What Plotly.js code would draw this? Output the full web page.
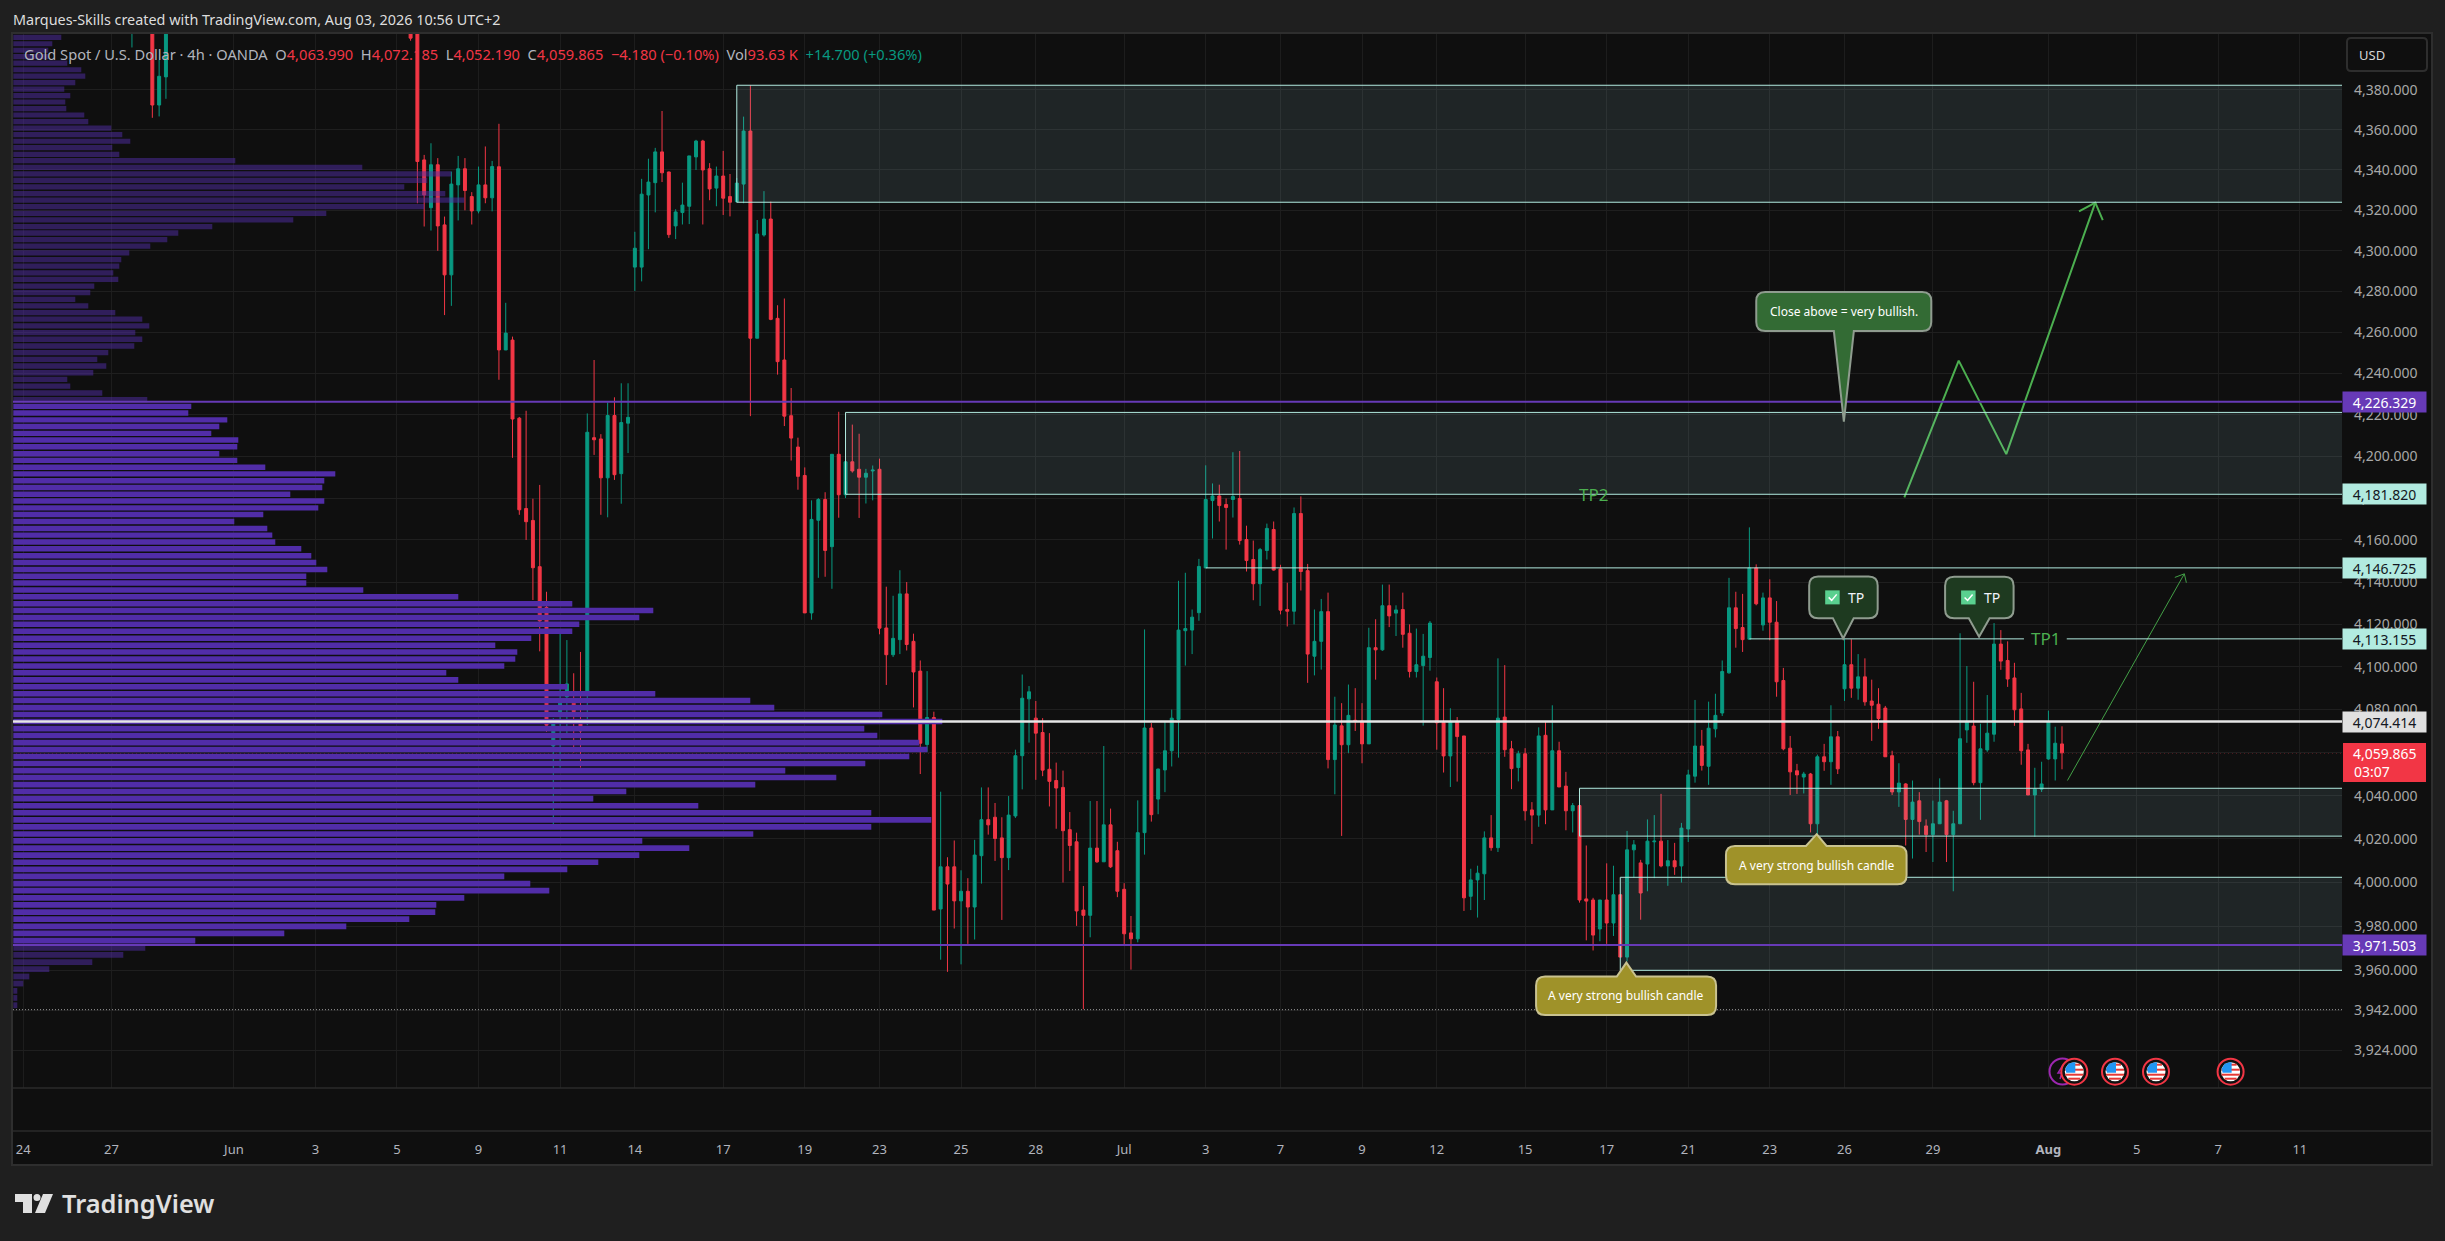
<!DOCTYPE html>
<html><head><meta charset="utf-8">
<script src="https://cdn.plot.ly/plotly-3.0.1.min.js"></script>
<style>html,body{margin:0;padding:0;background:#1f1f1f;overflow:hidden}#c{width:2445px;height:1241px}</style>
</head><body><div id="c"></div>
<script>
// candle position (bar count) — the first four sit before a stretch that lies above the visible range
const earlyIndex=[-96,-93,-92,-91];
const opens=[4415,4420,4372.4,4386.5,
4410,4412,4345,4321.3,4342.6,4312.8,4288.2,4332.6,4340.6,4326.8,
4319.7,4332.6,4326.2,4341.6,4251.5,4256.3,4218.4,4175,4169.3,4147.3,
4128,4063,4079,4086,4083,4075,4088,4209,4208.4,4189.7,
4219.7,4191.7,4216,4292,4292,4327.6,4333.7,4349,4339,4312.3,
4318.9,4322,4346.5,4354.4,4340.6,4331,4337,4326.8,4324.3,4333,
4359.4,4257.2,4307.8,4315.7,4266.9,4246.6,4219.6,4204.5,4190.8,4125.4,
4169.4,4179.3,4156.8,4201,4181.6,4197.4,4193.8,4190,4193,4193.8,
4118.3,4105.7,4112.8,4134.4,4112,4098,4063.7,4076.3,3987.9,4007.2,
4007.2,3991.6,3996,3988.8,4012.3,4028.9,4030,4020.5,4011.4,4030.6,
4058.5,4085,4076,4069.3,4052.2,4047,4043.8,4024.3,4018.7,3987.4,
3985,4015.8,4009.5,4026.5,4014.6,3996.9,3977,3974.3,4022.9,4071.4,
4038.4,4051.9,4060.8,4075.4,4117,4117.3,4125.5,4146.7,4178.8,4181,
4176.9,4179.3,4179.8,4160.2,4150.7,4139.2,4155,4165,4146.2,4127,
4126.2,4172.6,4145.4,4105,4112,4126,4056.7,4072.4,4063.6,4075,
4074.6,4064,4109,4108,4128.8,4125.3,4127,4115.8,4097.8,4100.6,
4104.4,4093,4074,4058.4,4074.4,4067.7,3993.7,4001.2,4004,4020.5,
4016,4076.5,4061.7,4053,4059.4,4033.4,4031,4068,4033.4,4060.8,
4044.4,4033,4035.4,3992.5,3992,3978.8,3992,3981.5,3994.4,3966,
4015,4009,4008.5,4018.7,4019,4007.6,4010,4007.6,4024.6,4049,
4063,4053.6,4071,4078.4,4097.2,4127.8,4118.5,4113,4146.7,4119.7,
4132.5,4121,4093.6,4062,4051.5,4048.6,4050,4027,4058,4055.7,
4067.3,4089.7,4101,4090,4095.3,4084,4082.5,4080.7,4058.5,4041.7,
4045.4,4029,4037.6,4026,4022,4027,4037.6,4022,4027,4070.5,
4072.3,4046,4061.2,4068.5,4110.7,4103,4094.8,4080.3,4061.2,4040.3,
4043,4057,4057,4063.99];
const highs=[4425,4425,4395,4425,
4415,4415,4347.5,4353.3,4345.9,4316.9,4339.2,4347,4345.9,4329,
4341.7,4351.7,4344.5,4363,4274.5,4258,4219,4222,4179.7,4186.3,
4135.4,4076,4115.7,4112.6,4097,4107,4220.7,4246.6,4210.7,4226,
4228.5,4235.3,4235.3,4309.4,4335.6,4345.6,4351,4369.4,4339.2,4320.5,
4333.7,4347,4355,4355,4343.4,4341.7,4349.5,4338,4336,4366.6,
4382.3,4315.2,4329.5,4324.3,4273.3,4276.6,4233,4209,4194.7,4178.9,
4180,4182.8,4201,4221.5,4207.5,4215.3,4210.9,4194,4195.6,4198.9,
4137.8,4133.5,4145.6,4140,4115.6,4103,4098,4079,4041.8,4011.6,
4019.3,4005.6,4002,4019.6,4043.8,4043.8,4036.6,4030,4039.8,4061.3,
4096.4,4091,4084,4076,4069,4055.3,4051.6,4032.4,4022.9,3998.4,
4037.5,4037.5,4063,4034,4018.7,3999.7,3984.7,4037.8,4117.6,4073.7,
4052.5,4074.3,4080,4140.6,4144.4,4127,4151,4195.7,4187,4186.4,
4179.8,4202,4202.6,4166.8,4159.7,4156.2,4167.8,4168.8,4148.2,4139.7,
4175.5,4180.8,4148.6,4127,4132,4135,4086,4083,4091.7,4090,
4083,4118.4,4122.4,4138.8,4138.8,4129,4135,4120,4118,4115.5,
4121.6,4095,4090,4080.6,4076.5,4067.7,4006.3,4007.7,4023.5,4031,
4104,4100.8,4065.4,4060.8,4062,4037,4071.7,4074.4,4082,4065,
4051,4036.6,4035.4,4017,3993,3992,4008.8,4007.7,3994.4,4023.7,
4019.5,4010.4,4029,4031,4040.8,4019.5,4018.2,4027.4,4052,4084.5,
4070.5,4083.7,4087.4,4103,4142,4135.4,4134.4,4166,4148.4,4135,
4141.3,4131,4099.5,4067.7,4054.7,4051,4050.5,4059,4064,4082,
4070,4113,4113,4106,4104,4094,4090,4081.7,4060.8,4055,
4045.8,4047,4041.6,4029,4037.7,4048,4038,4033,4115.8,4100.4,
4093,4073.4,4086.8,4120.6,4117.3,4112,4101.9,4087.8,4064,4052.9,
4055.7,4079.5,4072,4072.185];
const lows=[4401.3,4366,4366.7,4375.5,
4404.7,4323.5,4312,4310,4300,4268.5,4273,4315,4320,4313,
4318.5,4323.5,4319.5,4237,4251.4,4199.3,4172,4160,4131.5,4107.3,
4069.6,4026.5,4053,4069,4060,4053,4072.7,4200.7,4172,4170.8,
4188.7,4177.3,4201.6,4280.3,4285,4300.8,4319,4334,4306.4,4305.8,
4313,4313.2,4340,4313,4325,4322,4317.7,4317,4323.8,4323.5,
4219.4,4257.2,4307,4266,4239.5,4214.6,4198,4184,4125.4,4122.2,
4142,4142.5,4136.8,4170.6,4180,4192.2,4170.5,4177.4,4178.9,4115.3,
4091.5,4104.6,4106,4107.7,4081,4050,4060.3,3987.4,3964.8,3959.3,
3979,3962.7,3972,3974,3999.5,4022,4009.9,3982.9,4005.7,4029.7,
4042.9,4064.6,4047.3,4049,4035,4024.7,4000,4005.3,3980.2,3942.4,
3975,4009,4009.5,4006.7,3993.3,3971,3960.3,3972.7,4012.8,4028,
4031.4,4041.6,4053.5,4057.6,4100.6,4106,4121.7,4146.7,4160.7,4168.8,
4155.4,4170.7,4157.8,4145,4131.4,4128.7,4150.7,4145.4,4124.7,4119,
4120,4136,4092.5,4096,4098.7,4052.6,4040.6,4021.4,4059.8,4070,
4055,4064,4094,4107.5,4118.7,4114.5,4109,4095,4095,4072.5,
4098.2,4061.3,4050.7,4044,4046.5,3987,3987.4,3984,3992,4014.6,
4014,4058,4043,4046.6,4028.5,4017.7,4025.6,4026.8,4033.4,4044,
4024,4023,3990.8,3973.6,3969,3973.2,3972,3975.6,3966,3964,
4002.3,3983,3996,4002,4007,3998.5,4003.5,4000,4018.6,4046,
4051.6,4045,4067,4077,4096.8,4109,4107,4113,4129,4117,
4112.5,4086,4061,4040.3,4040.8,4041,4023,4022,4051.5,4045,
4050,4084,4085.5,4084.6,4081.8,4065.4,4071,4058,4040.3,4034.8,
4017,4011,4022,4014,4009.4,4027,4009.4,3996,4027,4064.5,
4044.8,4028.8,4060.3,4065,4098.6,4090.6,4072.4,4054.3,4040.3,4021,
4041.7,4056.6,4047,4052.19];
const closes=[4420,4372.4,4386.8,4420,
4406,4344.2,4327.6,4342.6,4312.3,4288.2,4333,4340.6,4329.8,4319.7,
4332.6,4326.2,4341.7,4251.5,4259.7,4218,4174.4,4168.7,4146.8,4121.6,
4072.7,4074,4083,4092,4079,4070,4211.6,4208,4189.7,4219.7,
4191.2,4216.3,4218.8,4301.3,4328,4334,4349,4338.6,4308,4319.2,
4322.6,4347,4354.4,4340,4330.6,4337,4326,4324,4333.5,4359.4,
4257.2,4308.3,4315.7,4266.4,4245.8,4219.4,4208.8,4190.4,4125.4,4169.8,
4179.3,4155,4201,4181.6,4197.4,4193,4190,4191.9,4193.4,4118.2,
4105.7,4113.4,4134.4,4110.5,4097.6,4064.3,4076.3,3987.4,4007.2,3999.3,
3991.6,3996,3988.8,4012.6,4028.9,4026.5,4020.2,4011.4,4031,4058.5,
4085.3,4088.3,4069,4051.8,4046.6,4043.5,4023.8,4017,3987,3985,
4015.8,4009.5,4026.5,4007.2,3996,3976.6,3974.3,4022.9,4071.4,4031.2,
4052.3,4060.8,4076,4117.3,4118,4123.4,4147.4,4179.3,4181,4176.4,
4175.5,4180.8,4159.7,4150.2,4139.2,4155.4,4165.5,4145.7,4126.7,4126.2,
4172.6,4145,4106,4112,4126,4056.7,4072.8,4063.6,4077.3,4074.5,
4064,4109,4108,4128.8,4124,4126.8,4115.3,4097.8,4101,4105,
4120.6,4073.8,4058.4,4074.4,4067.4,3993,4001.2,4004.3,4020.5,4016,
4076,4061.3,4052.5,4059.4,4033,4031,4067.7,4033.4,4060.8,4044,
4033,4035.4,3992,3991.5,3976,3992,3981.5,3994.4,3966,4015,
4017.3,3995.2,4019,4019,4007.6,4010,4007.2,4025,4049.6,4063,
4054,4071.3,4077.3,4097.8,4127.8,4118,4112.8,4146.7,4129.7,4132.5,
4121,4093,4061.7,4051,4049.6,4050,4027,4058,4055.7,4067.3,
4052.4,4101,4090,4095.3,4083.6,4082,4075.8,4058,4041.7,4045.8,
4029,4037,4028,4022,4027,4037,4022,4027,4066.4,4074.3,
4046,4061.7,4069,4110.7,4102.7,4094.3,4079.9,4060.8,4040.3,4043,
4045.4,4074.4,4064.3,4059.865];

// volume profile rows, bottom to top
const profilePrice=[3944.2,3947.5,3950.7,3954.0,3957.2,3960.5,3963.7,3967.0,3970.2,3973.5,
3976.8,3980.0,3983.3,3986.5,3989.8,3993.0,3996.3,3999.5,4002.8,4006.0,
4009.3,4012.6,4015.8,4019.1,4022.3,4025.6,4028.8,4032.1,4035.3,4038.6,
4041.9,4045.1,4048.4,4051.6,4054.9,4058.1,4061.4,4064.6,4067.9,4071.1,
4074.4,4077.7,4080.9,4084.2,4087.4,4090.7,4093.9,4097.2,4100.4,4103.7,
4107.0,4110.2,4113.5,4116.7,4120.0,4123.2,4126.5,4129.7,4133.0,4136.2,
4139.5,4142.8,4146.0,4149.3,4152.5,4155.8,4159.0,4162.3,4165.5,4168.8,
4172.1,4175.3,4178.6,4181.8,4185.1,4188.3,4191.6,4194.8,4198.1,4201.3,
4204.6,4207.9,4211.1,4214.4,4217.6,4220.9,4224.1,4227.4,4230.6,4233.9,
4237.2,4240.4,4243.7,4246.9,4250.2,4253.4,4256.7,4259.9,4263.2,4266.5,
4269.7,4273.0,4276.2,4279.5,4282.7,4286.0,4289.2,4292.5,4295.7,4299.0,
4302.3,4305.5,4308.8,4312.0,4315.3,4318.5,4321.8,4325.0,4328.3,4331.6,
4334.8,4338.1,4341.3,4344.6,4347.8,4351.1,4354.3,4357.6,4360.8,4364.1,
4367.4,4370.6,4373.9,4377.1,4380.4,4383.6,4386.9,4390.1,4393.4,4396.7,
4399.9,4403.2,4406.4];
const profileVolume=[4,4,4,10,16,36,79,110,132,182,
271,333,396,422,423,451,536,517,491,554,
585,626,676,629,740,858,918,858,685,580,
613,742,823,772,852,896,914,906,864,851,
929,869,761,737,642,554,445,433,491,502,
504,482,518,559,566,626,640,559,445,350,
293,293,314,303,298,288,262,259,254,221,
250,305,311,277,309,311,322,252,224,206,
224,225,198,206,214,175,178,
134,89,57,54,80,93,84,95,121,129,
122,136,129,102,75,62,77,81,105,100,
106,108,116,137,154,165,199,280,313,411,
451,432,391,414,438,349,222,106,99,117,
109,98,75,71,53,52,57,51,62,72,
68,54,35,35,39,48];

const priceTicks=[3924,3942,3960,3980,4000,4020,4040,4060,4080,4100,4120,4140,4160,4180,4200,4220,4240,4260,4280,4300,4320,4340,4360,4380];
const timeTickIndex=[-112,-99,-81,-69,-57,-45,-33,-22,-9,3,14,26,37,50,62,73,85,96,109,121,133,145,156,169,186,199,211,223];
const timeTickLabels=['24','27','Jun','3','5','9','11','14','17','19','23','25','28','Jul','3','7','9','12','15','17','21','23','26','29','<b>Aug</b>','5','7','11'];

// levels
const pocPrice=4074.414, vahPrice=4226.329, valPrice=3971.503, lastPrice=4059.865, lowPrice=3942.2;
const zoneTop=[[-7,4382.3,4324],[9,4221.2,4181.82],[117,4043.4,4021.3],[123,4002.4,3960]];
const levelLines=[[62,4146.725],[142,4113.155]];
// projected paths
const waveIndex=[164.8,172.8,179.8,192.9], wavePrice=[4180.3,4246.3,4201.1,4323.8];
const waveHeadIndex=[190.5,192.9,194], waveHeadPrice=[4319.5,4323.8,4315.2];
const shortIndex=[188.8,206], shortPrice=[4047,4143.9];
const shortHeadIndex=[204.6,206,206.3], shortHeadPrice=[4142.2,4143.9,4139.7];

const FONT='"Noto Sans", sans-serif';
const L=12,T=33,PW=2330,PH=1055;
const fx=x=>(x-L)/PW, fy=y=>1-(y-T)/PH;
const pt=(x,y)=>fx(x)+' '+fy(y);
const RIGHT=400;
const shapes=[],ann=[];
const teal='#b2ebe0';

function pxRect(x0,y0,x1,y1,o){shapes.push(Object.assign({type:'rect',xref:'paper',yref:'paper',x0:fx(x0),x1:fx(x1),y0:fy(y0),y1:fy(y1),line:{width:0}},o));}
function pxLine(x0,y0,x1,y1,c,w){shapes.push({type:'line',xref:'paper',yref:'paper',x0:fx(x0),x1:fx(x1),y0:fy(y0),y1:fy(y1),line:{color:c,width:w},layer:'above'});}
function pxText(x,y,text,size,color,anchor,extra){ann.push(Object.assign({xref:'paper',yref:'paper',x:fx(x),y:fy(y),text,showarrow:false,xanchor:anchor||'left',yanchor:'middle',font:{family:FONT,size,color},borderpad:0},extra||{}));}

// chart frame
pxRect(12,33,2432,1165,{fillcolor:'#0f0f0f',layer:'below'});
pxLine(12,1088,2432,1088,'#2b2b2b',1.5);
pxLine(12,1131,2432,1131,'#2b2b2b',1.5);
shapes.push({type:'rect',xref:'paper',yref:'paper',x0:fx(12),x1:fx(2432),y0:fy(33),y1:fy(1165),line:{color:'#2e2e2e',width:2},layer:'above'});

// current price dotted line below the candles
shapes.push({type:'line',xref:'paper',yref:'y',x0:0,x1:1,y0:lastPrice,y1:lastPrice,line:{color:'#f23645',width:1,dash:'1px,3px'},layer:'below'});
// zones
zoneTop.forEach(z=>shapes.push({type:'rect',xref:'x',yref:'y',x0:z[0],x1:RIGHT,y0:z[2],y1:z[1],fillcolor:'rgba(178,235,242,0.1)',line:{color:teal,width:1},layer:'above'}));
// levels
shapes.push({type:'line',xref:'x',yref:'y',x0:levelLines[0][0],x1:RIGHT,y0:levelLines[0][1],y1:levelLines[0][1],line:{color:teal,width:1},layer:'above'});
shapes.push({type:'line',xref:'x',yref:'y',x0:levelLines[1][0],x1:182.4,y0:levelLines[1][1],y1:levelLines[1][1],line:{color:teal,width:1},layer:'above'});
shapes.push({type:'line',xref:'x',yref:'y',x0:188.7,x1:RIGHT,y0:levelLines[1][1],y1:levelLines[1][1],line:{color:teal,width:1},layer:'above'});
[[pocPrice,'#e6e6e6',2.5],[vahPrice,'#673ab7',2],[valPrice,'#673ab7',2]].forEach(l=>shapes.push({type:'line',xref:'paper',yref:'y',x0:fx(13),x1:1,y0:l[0],y1:l[0],line:{color:l[1],width:l[2]},layer:'above'}));
shapes.push({type:'line',xref:'paper',yref:'y',x0:fx(13),x1:1,y0:lowPrice,y1:lowPrice,line:{color:'#9a9a9a',width:1,dash:'1px,2px'},layer:'above'});

// callouts anchored at their tip (index, price), sizes in px
function bubble(i,p,l,r,b,t,bl,br,fill,border,rad){
  const R=rad, up=b>0; let d;
  if(up){
    d=`M 0 0 L ${br} ${b} L ${r-R} ${b} Q ${r} ${b} ${r} ${b+R} L ${r} ${t-R} Q ${r} ${t} ${r-R} ${t} L ${l+R} ${t} Q ${l} ${t} ${l} ${t-R} L ${l} ${b+R} Q ${l} ${b} ${l+R} ${b} L ${bl} ${b} Z`;
  } else {
    d=`M 0 0 L ${br} ${t} L ${r-R} ${t} Q ${r} ${t} ${r} ${t-R} L ${r} ${b+R} Q ${r} ${b} ${r-R} ${b} L ${l+R} ${b} Q ${l} ${b} ${l} ${b+R} L ${l} ${t-R} Q ${l} ${t} ${l+R} ${t} L ${bl} ${t} Z`;
  }
  shapes.push({type:'path',xref:'x',yref:'y',xsizemode:'pixel',ysizemode:'pixel',xanchor:i,yanchor:p,path:d,fillcolor:fill,line:{color:border,width:2},layer:'above'});
}
function bubbleText(i,p,dx,dy,text,size,color){ann.push({xref:'x',yref:'y',x:i,y:Math.log10(p),xshift:dx,yshift:dy,text,showarrow:false,xanchor:'center',yanchor:'middle',font:{family:FONT,size,color},borderpad:0});}

bubble(155.9,4216.7,-87.6,87.4,90.7,129.7,-10,10,'#336b34','#8f9c8f',9);
bubbleText(155.9,4216.7,0,110,'Close above = very bullish.',12,'#ffffff');
bubble(123.9,3963.5,-90.3,89.7,-52.3,-14,-9.6,9.7,'#9f9229','#c9c290',9);
bubbleText(123.9,3963.5,0,-33,'A very strong bullish candle',12,'#ffffff');
bubble(151.9,4022.2,-90.7,89.9,-50,-11.7,-10.7,9.9,'#9f9229','#c9c290',9);
bubbleText(151.9,4022.2,0,-31,'A very strong bullish candle',12,'#ffffff');
function tpBubble(i,p,b,t){
  bubble(i,p,-34,34.5,b,t,-10.3,10.5,'#1e3a20','#8f9c8f',9);
  bubbleText(i,p,13,(b+t)/2,'TP',14,'#f0f3fa');
  const m=(b+t)/2;
  shapes.push({type:'path',xref:'x',yref:'y',xsizemode:'pixel',ysizemode:'pixel',xanchor:i,yanchor:p,path:`M -18 ${m-7} L -3.5 ${m-7} L -3.5 ${m+7} L -18 ${m+7} Z`,fillcolor:'#5ad08f',line:{width:0},layer:'above'});
  shapes.push({type:'path',xref:'x',yref:'y',xsizemode:'pixel',ysizemode:'pixel',xanchor:i,yanchor:p,path:`M -14.5 ${m} L -11.5 ${m-3} L -6.5 ${m+3}`,line:{color:'#ffffff',width:1.5},layer:'above'});
}
tpBubble(155.8,4113.3,20.4,62);
tpBubble(175.8,4114.2,18.4,60);

// on-chart labels
ann.push({xref:'x',yref:'y',x:119.1,y:Math.log10(4181.82),text:'TP2',showarrow:false,font:{family:FONT,size:17,color:'#4caf50'},xanchor:'center',yanchor:'middle',borderpad:0});
ann.push({xref:'x',yref:'y',x:185.5,y:Math.log10(4113.155),text:'TP1',showarrow:false,font:{family:FONT,size:17,color:'#4caf50'},xanchor:'center',yanchor:'middle',borderpad:0});

// price tags
function tag(p,text,bg,color){ann.push({xref:'paper',yref:'y',x:fx(2384.5),y:Math.log10(p),text,showarrow:false,xanchor:'center',yanchor:'middle',width:83,height:20,bgcolor:bg,font:{family:FONT,size:14,color},borderpad:0,align:'center'});}
tag(vahPrice,'4,226.329','#673ab7','#ffffff');
tag(4181.82,'4,181.820',teal,'#131722');
tag(4146.725,'4,146.725',teal,'#131722');
tag(4113.155,'4,113.155',teal,'#131722');
tag(pocPrice,'4,074.414','#e0e0e0','#131722');
tag(valPrice,'3,971.503','#673ab7','#ffffff');
pxRect(2343,743,2426,782,{fillcolor:'#f23645',layer:'above'});
pxText(2384.5,753,'4,059.865',14,'#ffffff','center');
pxText(2353,771,'03:07',14,'#ffffff','left');

// USD button
shapes.push({type:'path',xref:'paper',yref:'paper',path:`M ${pt(2351,38)} L ${pt(2423,38)} Q ${pt(2427,38)} ${pt(2427,42)} L ${pt(2427,67)} Q ${pt(2427,71)} ${pt(2423,71)} L ${pt(2351,71)} Q ${pt(2347,71)} ${pt(2347,67)} L ${pt(2347,42)} Q ${pt(2347,38)} ${pt(2351,38)} Z`,fillcolor:'#0f0f0f',line:{color:'#2e2e2e',width:2},layer:'above'});
pxText(2358,54.5,'USD',13,'#d6d6d6','left');

// header + legend text
pxText(12,20,'Marques-Skills created with TradingView.com, Aug 03, 2026 10:56 UTC+2',14.4,'#dddddd','left');
const R='<span style="color:#f23645">',G='<span style="color:#089981">',E='</span>',S='\u00a0\u00a0';
pxText(23,54,`Gold Spot / U.S. Dollar · 4h · OANDA${S}O${R}4,063.990${E}${S}H${R}4,072.185${E}${S}L${R}4,052.190${E}${S}C${R}4,059.865${E}${S}${R}−4.180 (−0.10%)${E}${S}Vol${R}93.63 K${E}${S}${G}+14.700 (+0.36%)${E}`,14.65,'#b2b5be','left');

// logo
shapes.push({type:'path',xref:'paper',yref:'paper',path:`M ${pt(15,1194)} L ${pt(32,1194)} L ${pt(32,1213)} L ${pt(23,1213)} L ${pt(23,1202)} L ${pt(15,1202)} Z`,fillcolor:'#e0e0e0',line:{width:0},layer:'above'});
shapes.push({type:'circle',xref:'paper',yref:'paper',x0:fx(33.5),x1:fx(40.5),y0:fy(1194),y1:fy(1201),fillcolor:'#e0e0e0',line:{width:0},layer:'above'});
shapes.push({type:'path',xref:'paper',yref:'paper',path:`M ${pt(43,1194)} L ${pt(53,1194)} L ${pt(45,1213)} L ${pt(35,1213)} Z`,fillcolor:'#e0e0e0',line:{width:0},layer:'above'});
pxText(61,1203,'TradingView',25.4,'#e0e0e0','left',{font:{family:FONT,size:25.4,color:'#e0e0e0',weight:600}});

// economic calendar icons
shapes.push({type:'circle',xref:'paper',yref:'paper',x0:fx(2049.5),x1:fx(2075.5),y0:fy(1058.5),y1:fy(1084.5),fillcolor:'#0f0f0f',line:{color:'#9c27b0',width:2},layer:'above'});
shapes.push({type:'path',xref:'paper',yref:'paper',path:`M ${pt(2063,1065)} L ${pt(2058,1073)} L ${pt(2062,1073)} L ${pt(2060,1079)}`,line:{color:'#9c27b0',width:1.5},layer:'above'});
function flag(cx,cy){
  shapes.push({type:'circle',xref:'paper',yref:'paper',x0:fx(cx-13),x1:fx(cx+13),y0:fy(cy-13),y1:fy(cy+13),fillcolor:'#111111',line:{color:'#f23645',width:2},layer:'above'});
  shapes.push({type:'circle',xref:'paper',yref:'paper',x0:fx(cx-9.5),x1:fx(cx+9.5),y0:fy(cy-9.5),y1:fy(cy+9.5),fillcolor:'#ffffff',line:{width:0},layer:'above'});
  [[-7,6],[-2,9],[3,9],[7,6]].forEach(s=>pxRect(cx-s[1],cy+s[0]-1,cx+s[1],cy+s[0]+1,{fillcolor:'#e53935',layer:'above'}));
  shapes.push({type:'path',xref:'paper',yref:'paper',path:`M ${pt(cx-8,cy+1)} L ${pt(cx-9,cy-3)} L ${pt(cx-6,cy-8)} L ${pt(cx-1,cy-9.5)} L ${pt(cx+1,cy-9.5)} L ${pt(cx+1,cy+1)} Z`,fillcolor:'#2196f3',line:{width:0},layer:'above'});
}
[2074.3,2115,2156,2230.6].forEach(x=>flag(x,1071.7));

const mainIndex=[];for(let i=-55;i<=188;i++)mainIndex.push(i);
const candleIndex=earlyIndex.concat(mainIndex);
if(candleIndex.length!==opens.length||opens.length!==highs.length||highs.length!==lows.length||lows.length!==closes.length||profilePrice.length!==profileVolume.length)
  throw new Error('len '+[candleIndex.length,opens.length,highs.length,lows.length,closes.length,profilePrice.length,profileVolume.length]);

const traces=[
 {type:'candlestick',x:candleIndex,open:opens,high:highs,low:lows,close:closes,xaxis:'x',yaxis:'y',whiskerwidth:0,hoverinfo:'skip',
  increasing:{line:{color:'#089981',width:1},fillcolor:'#089981'},decreasing:{line:{color:'#f23645',width:1},fillcolor:'#f23645'}},
 {type:'scatter',mode:'lines',x:waveIndex,y:wavePrice,line:{color:'#4caf50',width:2},hoverinfo:'skip',xaxis:'x',yaxis:'y'},
 {type:'scatter',mode:'lines',x:waveHeadIndex,y:waveHeadPrice,line:{color:'#4caf50',width:2},hoverinfo:'skip',xaxis:'x',yaxis:'y'},
 {type:'scatter',mode:'lines',x:shortIndex,y:shortPrice,line:{color:'#43a047',width:1},hoverinfo:'skip',xaxis:'x',yaxis:'y'},
 {type:'scatter',mode:'lines',x:shortHeadIndex,y:shortHeadPrice,line:{color:'#43a047',width:1},hoverinfo:'skip',xaxis:'x',yaxis:'y'},
 {type:'bar',orientation:'h',y:profilePrice,x:profileVolume,width:2.6,xaxis:'x2',yaxis:'y',hoverinfo:'skip',
  marker:{line:{width:0},color:profilePrice.map(p=>(p>vahPrice||p<valPrice)?'rgba(81,45,168,0.5)':'rgba(81,45,168,1)')}}
];
const layout={
 width:2445,height:1241,showlegend:false,hovermode:false,dragmode:false,
 paper_bgcolor:'#1f1f1f',plot_bgcolor:'#0f0f0f',
 margin:{l:12,r:103,t:33,b:153,pad:0},
 boxgap:0.38,barmode:'overlay',
 xaxis:{type:'linear',range:[-113.65,229.2],tickmode:'array',tickvals:timeTickIndex,ticktext:timeTickLabels,showgrid:true,gridcolor:'#1d1d1d',gridwidth:1,zeroline:false,showline:false,ticks:'',ticklabelstandoff:52,
   tickfont:{family:FONT,size:13,color:'#b2b5be'},rangeslider:{visible:false},fixedrange:true},
 xaxis2:{type:'linear',overlaying:'x',anchor:'y',side:'top',range:[-1.3,2328.7],visible:false,fixedrange:true},
 yaxis:{type:'log',side:'right',range:[Math.log10(3907),Math.log10(4408.6)],tickmode:'array',tickvals:priceTicks,ticktext:priceTicks.map(v=>v.toLocaleString('en-US',{minimumFractionDigits:3})),
   showgrid:true,gridcolor:'#1f1f1f',gridwidth:1,zeroline:false,showline:false,ticks:'',ticklabelstandoff:11,tickfont:{family:FONT,size:14,color:'#a8a8a8'},fixedrange:true},
 shapes,annotations:ann
};
Plotly.newPlot('c',traces,layout,{displayModeBar:false,staticPlot:true});
</script></body></html>
